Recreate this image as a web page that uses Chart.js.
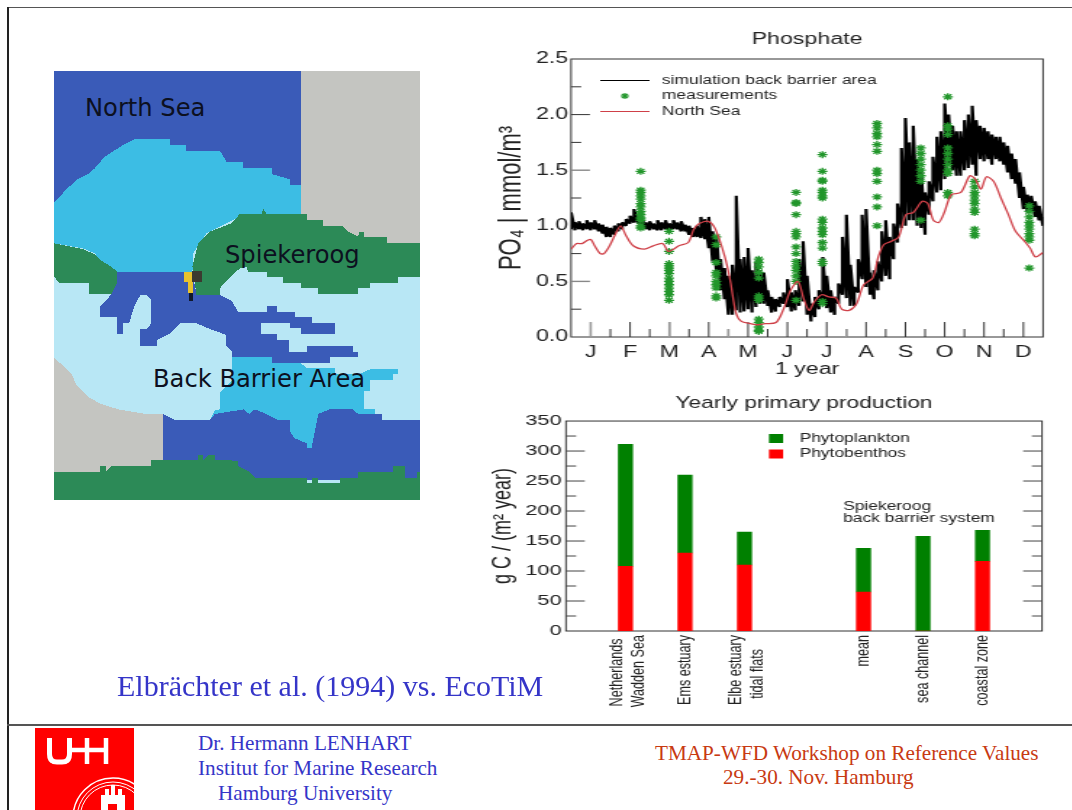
<!DOCTYPE html>
<html>
<head>
<meta charset="utf-8">
<title>Phosphate and yearly primary production</title>
<script src="https://cdn.jsdelivr.net/npm/chart.js@4/dist/chart.umd.min.js"></script>
<style>
    html, body { margin: 0; padding: 0; background: #fff; }
    body { position: relative; width: 1072px; height: 810px; overflow: hidden; }
    .frame { position: absolute; background: #555; }
    .wide { position: absolute; transform: scaleX(1.45); transform-origin: 0 0; }
    .map-label { position: absolute; font-family: "DejaVu Sans", sans-serif; font-size: 24.2px; line-height: 1; color: #0c1020; white-space: pre; }
    .slide-text { position: absolute; font-family: "Liberation Serif", serif; line-height: 1; white-space: pre; }
    .blue { color: #3535c8; }
    .rust { color: #c83a12; }
</style>
</head>
<body>
<div class="frame" style="left:7px;top:7px;width:1065px;height:1px"></div>
<div class="frame" style="left:7px;top:7px;width:2px;height:803px;background:#222"></div>
<div class="frame" style="left:7px;top:724px;width:1065px;height:2px"></div>

<svg style="position:absolute;left:54px;top:71px" width="366" height="429" viewBox="43 33 1097 1287" preserveAspectRatio="none" shape-rendering="crispEdges">
    <rect x="43" y="33" width="1097" height="1287" fill="#b8e7f5"/>
    <polygon fill="#3a5bb8" points="43,33 782,33 782,470 43,470"/>
    <polygon fill="#c4c5c1" points="782,33 1140,33 1140,560 782,560"/>
    <polygon fill="#3cbde4" points="43,428 60,412 75,393 110,360 145,342 165,325 195,290 250,255 285,238 390,238 390,255 440,255 440,272 540,272 560,305 610,305 610,323 695,323 695,342 750,358 750,376 782,376 782,470 600,470 500,520 460,580 458,635 232,635 215,620 180,600 165,580 130,565 43,550"/>
    <polygon fill="#2c8a57" points="470,705 458,620 475,550 510,515 575,490 600,462 665,462 670,447 680,462 800,462 800,480 850,480 850,497 905,497 925,515 955,530 958,515 972,515 972,530 1040,530 1040,548 1140,548 1140,652 1075,652 1075,668 990,668 990,685 955,685 955,703 835,703 835,685 782,685 782,668 730,668 730,652 680,652 680,635 625,635 620,620 600,625 570,652 540,685 540,705"/>
    <polygon fill="#2c8a57" points="43,550 130,567 165,583 182,600 215,620 232,635 232,670 215,703 147,703 147,670 60,670 43,650"/>
    <polygon fill="#3a5bb8" points="232,635 458,635 470,705 540,705 575,722 595,755 680,755 680,738 712,738 712,755 765,755 765,772 815,772 815,790 885,790 885,823 782,823 782,805 750,805 750,790 663,790 663,823 712,823 712,840 748,840 748,875 800,875 800,858 938,858 938,875 955,875 955,892 870,892 870,908 697,908 697,892 578,892 578,875 560,858 560,825 505,805 470,790 420,790 388,822 353,840 353,857 302,857 302,808 320,808 335,790 335,720 320,705 302,705 285,735 268,790 250,790 250,822 233,822 233,772 180,772 180,740 198,722 215,703 232,670"/>
    <polygon fill="#3cbde4" points="578,892 697,892 697,908 782,908 800,925 885,925 885,942 960,942 990,928 1075,928 1075,942 1058,942 1058,960 990,960 990,993 972,993 972,1048 1005,1048 1005,1062 1025,1080 835,1080 815,1165 800,1165 800,1150 765,1135 750,1115 750,1080 510,1080 525,1050 542,1048 542,995 578,960"/>
    <polygon fill="#c4c5c1" points="43,892 60,908 95,940 110,975 145,1010 180,1030 235,1048 320,1062 370,1062 370,1200 335,1218 215,1218 215,1235 43,1235"/>
    <polygon fill="#3a5bb8" points="370,1062 405,1080 510,1080 525,1062 612,1048 628,1062 645,1048 680,1062 715,1080 750,1080 750,1115 765,1135 800,1150 800,1165 815,1165 835,1062 870,1048 938,1048 955,1062 1025,1062 1025,1080 1140,1080 1140,1260 370,1260"/>
    <polygon fill="#2c8a57" points="43,1235 180,1235 180,1218 198,1218 198,1235 215,1218 335,1218 335,1200 475,1200 475,1185 490,1185 490,1200 507,1185 525,1185 525,1200 560,1200 595,1203 595,1218 628,1235 645,1253 800,1253 800,1270 815,1270 815,1253 835,1253 835,1270 900,1270 900,1253 955,1253 955,1235 1060,1235 1060,1218 1095,1218 1095,1253 1130,1253 1130,1235 1140,1235 1140,1320 43,1320"/>
    <rect x="432" y="635" width="28" height="30" fill="#e8c22c"/>
    <rect x="458" y="633" width="30" height="34" fill="#3b3a30"/>
    <rect x="445" y="665" width="16" height="35" fill="#e8c22c"/>
    <rect x="447" y="700" width="14" height="22" fill="#10182c"/>
</svg>
<div class="map-label" style="left:85px;top:96px">North Sea</div>
<div class="map-label" style="left:225px;top:243px">Spiekeroog</div>
<div class="map-label" style="left:153px;top:367px">Back Barrier Area</div>

<div class="wide" style="left:490px;top:20px"><canvas id="phosphateChart" width="393" height="365"></canvas></div>
<div class="wide" style="left:480px;top:392px"><canvas id="productionChart" width="400" height="330"></canvas></div>

<div class="slide-text blue" style="left:117px;top:671px;font-size:30px">Elbrächter et al. (1994) vs. EcoTiM</div>
<div class="slide-text blue" style="left:198px;top:733px;font-size:21.2px">Dr. Hermann LENHART</div>
<div class="slide-text blue" style="left:198px;top:758px;font-size:21.2px">Institut for Marine Research</div>
<div class="slide-text blue" style="left:218px;top:783px;font-size:21.2px">Hamburg University</div>
<div class="slide-text rust" style="left:655px;top:743px;font-size:21.2px">TMAP-WFD Workshop on Reference Values</div>
<div class="slide-text rust" style="left:723px;top:767px;font-size:21.2px">29.-30. Nov. Hamburg</div>

<svg style="position:absolute;left:35px;top:728px" width="99" height="82" viewBox="35 728 99 82">
    <rect x="35" y="728" width="99" height="82" fill="#f00"/>
    <path d="M49.5 738 V754 Q49.5 762 57 762 H62 Q69.5 762 69.5 754 V738" fill="none" stroke="#fff" stroke-width="5"/>
    <path d="M69.5 750 H108 M87 738 V764 M106 738 V764" fill="none" stroke="#fff" stroke-width="4.5"/>
    <g fill="none" stroke="#fff">
        <circle cx="113" cy="818" r="40" stroke-width="1.5"/>
        <circle cx="113" cy="818" r="36" stroke-width="1"/>
        <circle cx="113" cy="818" r="33" stroke-width="1"/>
    </g>
    <path d="M101 810 V795 H105 V789 H109 V795 H111 V785 H115 V795 H118 V789 H122 V795 H125 V810 Z" fill="#fff"/>
    <rect x="108" y="804" width="9" height="6" fill="#f00"/>
</svg>

<script>
const STRETCH_FONT = "'Liberation Sans', Arial, sans-serif";

// Phosphate chart, x is in months (0 = start of January, 12 = end of December)
const monthLabels = ["J", "F", "M", "A", "M", "J", "J", "A", "S", "O", "N", "D"];
const monthCenters = [0.5, 1.5, 2.5, 3.5, 4.5, 5.5, 6.5, 7.5, 8.5, 9.5, 10.5, 11.5];
const monthEdges = [1, 2, 3, 4, 5, 6, 7, 8, 9, 10, 11];
const fadedCenterTicks = [0.5, 2.5];
const fadedEdgeTicks = [4, 7];
const phosphateMinorTicks = [0.25, 0.75, 1.25, 1.75, 2.25];
const phosphateMajorTicks = [1, 2];
const phosphateFadedTicks = [0.5, 1.5];

// Simulation envelope, one low/high pair every 0.1 month
const simLow = [
    0.97, 0.96, 0.97, 0.96, 0.97, 0.96, 0.97, 0.95, 0.93, 0.90,
    0.90, 0.92, 0.95, 0.97, 1.00, 1.02, 1.03, 1.02, 1.00, 0.97,
    0.96, 0.97, 0.96, 0.96, 0.97, 0.95, 0.97, 0.97, 0.95, 0.95,
    0.92, 0.90, 0.90, 0.89, 0.88, 0.80, 0.68, 0.58, 0.42, 0.34,
    0.20, 0.20, 0.24, 0.22, 0.23, 0.25, 0.22, 0.27, 0.30, 0.30,
    0.28, 0.22, 0.23, 0.27, 0.30, 0.27, 0.23, 0.24, 0.28, 0.32,
    0.20, 0.14, 0.18, 0.25, 0.30, 0.26, 0.22, 0.20, 0.30, 0.38,
    0.35, 0.28, 0.28, 0.40, 0.52, 0.45, 0.38, 0.34, 0.42, 0.50,
    0.55, 0.52, 0.70, 0.85, 0.98, 1.00, 1.05, 1.05, 1.00, 0.98,
    0.92, 1.10, 1.22, 1.30, 1.32, 1.42, 1.55, 1.50, 1.45, 1.45,
    1.50, 1.52, 1.55, 1.45, 1.60, 1.58, 1.60, 1.55, 1.60, 1.58,
    1.55, 1.48, 1.42, 1.38, 1.25, 1.15, 1.12, 1.13, 1.08, 1.05,
    1.00
];
const simHigh = [
    1.12, 1.03, 1.04, 1.02, 1.05, 1.03, 1.05, 1.02, 1.01, 0.99,
    0.98, 1.00, 1.02, 1.03, 1.06, 1.09, 1.15, 1.09, 1.07, 1.03,
    1.04, 1.02, 1.05, 1.03, 1.05, 1.02, 1.05, 1.03, 1.04, 1.01,
    1.00, 0.98, 1.00, 1.08, 1.06, 1.08, 0.95, 0.90, 0.70, 0.62,
    0.55, 0.65, 1.27, 0.70, 0.72, 0.80, 0.60, 0.68, 0.60, 0.58,
    0.42, 0.36, 0.34, 0.36, 0.40, 0.52, 0.40, 0.42, 0.70, 0.86,
    0.55, 0.30, 0.36, 0.42, 0.72, 0.55, 0.42, 0.36, 0.48, 0.90,
    1.10, 0.65, 0.45, 0.70, 1.10, 1.15, 0.58, 0.60, 0.68, 0.95,
    1.05, 0.90, 1.02, 1.20, 1.70, 1.97, 1.75, 1.90, 1.60, 1.50,
    1.30, 1.40, 1.62, 1.80, 1.85, 2.10, 2.00, 1.90, 1.85, 1.85,
    1.95, 2.00, 2.08, 1.95, 1.90, 1.88, 1.85, 1.82, 1.80, 1.80,
    1.75, 1.72, 1.65, 1.60, 1.48, 1.35, 1.28, 1.27, 1.22, 1.18,
    1.08
];

const northSeaTime = [
    0, 0.14, 0.28, 0.42, 0.51, 0.6, 0.74, 0.84, 0.98, 1.12, 1.26, 1.4, 1.58, 1.86, 2.09, 2.33, 2.47, 2.6,
    2.74, 2.98, 3.12, 3.26, 3.49, 3.67, 3.91, 4.05, 4.19, 4.33, 4.56, 4.74, 4.93, 5.21, 5.4, 5.58, 5.77,
    5.91, 6.05, 6.19, 6.37, 6.56, 6.74, 6.88, 7.07, 7.26, 7.44, 7.67, 7.81, 7.95, 8.14, 8.33, 8.51, 8.7,
    8.93, 9.07, 9.21, 9.35, 9.49, 9.67, 9.91, 10.14, 10.28, 10.42, 10.56, 10.74, 10.93, 11.12, 11.3,
    11.53, 11.67, 11.81, 12
];
const northSeaValues = [
    0.79, 0.84, 0.84, 0.87, 0.875, 0.82, 0.75, 0.75, 0.82, 0.92, 1.0, 0.91, 0.82, 0.79, 0.82, 0.84, 0.77, 0.79,
    0.82, 0.85, 0.97, 1.02, 1.04, 0.97, 0.72, 0.5, 0.22, 0.14, 0.12, 0.11, 0.12, 0.13, 0.25, 0.42, 0.5,
    0.35, 0.24, 0.32, 0.38, 0.36, 0.35, 0.25, 0.24, 0.3, 0.47, 0.53, 0.72, 0.83, 0.86, 0.9, 1.1, 1.12,
    1.22, 1.2, 1.05, 1.03, 1.12, 1.28, 1.3, 1.45, 1.42, 1.33, 1.44, 1.4, 1.25, 1.1, 0.95,
    0.86, 0.8, 0.72, 0.76
];

// Measurement campaigns: one time per column, values read top to bottom
const sampleTimes = [1.77, 2.49, 3.69, 4.77, 5.72, 6.39, 7.78, 8.89, 9.58, 10.26, 11.65];
const sampleValues = [
    [1.49, 1.32, 1.3, 1.27, 1.24, 1.2, 1.17, 1.13, 1.1, 1.07, 1.05, 1.0, 0.98],
    [0.95, 0.86, 0.77, 0.66, 0.64, 0.62, 0.6, 0.57, 0.53, 0.5, 0.47, 0.44, 0.41, 0.38, 0.33],
    [0.9, 0.83, 0.67, 0.58, 0.55, 0.5, 0.47, 0.44, 0.37, 0.35],
    [0.7, 0.67, 0.63, 0.58, 0.53, 0.37, 0.35, 0.33, 0.16, 0.13, 0.09, 0.06, 0.05],
    [1.3, 1.21, 1.2, 1.1, 0.95, 0.93, 0.9, 0.81, 0.75, 0.68, 0.64, 0.6, 0.55, 0.5, 0.33],
    [1.64, 1.49, 1.41, 1.4, 1.32, 1.3, 1.27, 1.25, 1.06, 1.03, 0.98, 0.95, 0.92, 0.85, 0.8, 0.68, 0.66, 0.32, 0.3],
    [1.92, 1.88, 1.83, 1.8, 1.73, 1.67, 1.5, 1.47, 1.4, 1.26, 1.17, 1.0],
    [1.7, 1.65, 1.6, 1.55, 1.5, 1.45, 1.4, 1.05],
    [2.16, 1.9, 1.87, 1.82, 1.7, 1.65, 1.6, 1.55, 1.5, 1.47, 1.3, 1.27],
    [1.4, 1.35, 1.3, 1.27, 1.23, 1.2, 1.15, 1.12, 0.97, 0.93, 0.91],
    [1.18, 1.13, 1.08, 1.03, 1.0, 0.97, 0.93, 0.9, 0.87, 0.62]
];

// Production chart, blanks keep the gaps of the original axis
const siteLabels = ["", ["Netherlands ", "Wadden Sea"], "Ems estuary", ["Elbe estuary", "tidal flats    "], "", "mean", "sea channel", "coastal zone", ""];
const phytobenthos = [null, 108, 130, 110, null, 65, 0, 116, null];
const phytoplankton = [null, 203, 130, 55, null, 73, 158, 52, null];
const productionTicks = [0, 50, 100, 150, 200, 250, 300, 350];
const productionMajorTicks = [50, 100, 150, 200, 250, 300];
const productionMinorTicks = [25, 75, 125, 175, 225, 275, 325];

const simSeries = [];
simLow.forEach((low, i) => {
    const t = i / 10;
    simSeries.push({ x: t, y: low }, { x: t, y: simHigh[i] });
});
const northSeaSeries = northSeaTime.map((t, i) => ({ x: t, y: northSeaValues[i] }));
const sampleSeries = [];
sampleTimes.forEach((t, i) => sampleValues[i].forEach(v => sampleSeries.push({ x: t, y: v })));

// Draws the frame and the inward tick marks the plotting package used
const plotFrame = {
    id: "plotFrame",
    beforeDatasetsDraw(chart, args, opts) {
        const { ctx, chartArea: area, scales } = chart;
        ctx.save();
        ctx.strokeStyle = "#333";
        ctx.lineWidth = 1;
        ctx.strokeRect(area.left, area.top, area.right - area.left, area.bottom - area.top);
        (opts.yMarks || []).forEach(mark => {
            ctx.strokeStyle = mark.color;
            ctx.lineWidth = mark.width || 1;
            mark.values.forEach(v => {
                const y = scales.y.getPixelForValue(v);
                ctx.beginPath();
                ctx.moveTo(area.left, y);
                ctx.lineTo(area.left + mark.length, y);
                if (opts.bothSides) {
                    ctx.moveTo(area.right, y);
                    ctx.lineTo(area.right - mark.length, y);
                }
                ctx.stroke();
            });
        });
        (opts.xMarks || []).forEach(mark => {
            ctx.strokeStyle = mark.color;
            ctx.lineWidth = mark.width || 1;
            mark.values.forEach(v => {
                const x = scales.x.getPixelForValue(v);
                ctx.beginPath();
                ctx.moveTo(x, area.bottom);
                ctx.lineTo(x, area.bottom - mark.length);
                ctx.stroke();
            });
        });
        ctx.restore();
    },
};

// Legend and notes sit inside the plot, so they are placed by hand
const insetText = {
    id: "insetText",
    afterDraw(chart, args, opts) {
        const { ctx } = chart;
        ctx.save();
        ctx.textBaseline = "middle";
        ctx.font = `${opts.size}px ${STRETCH_FONT}`;
        (opts.rows || []).forEach(row => {
            if (row.line) {
                ctx.strokeStyle = row.line;
                ctx.lineWidth = row.width;
                ctx.beginPath();
                ctx.moveTo(row.keyX, row.y);
                ctx.lineTo(row.keyX + 34, row.y);
                ctx.stroke();
            }
            if (row.star) {
                ctx.strokeStyle = row.star;
                ctx.fillStyle = row.star;
                ctx.lineWidth = 1.2;
                Chart.helpers.drawPoint(ctx, { pointStyle: "star", radius: 3, borderWidth: 1.2 }, row.keyX + 17, row.y);
            }
            if (row.box) {
                ctx.fillStyle = row.box;
                ctx.fillRect(row.keyX, row.y - 4.5, 9.7, 9);
            }
            ctx.fillStyle = "#222";
            ctx.fillText(row.text, row.x, row.y);
        });
        ctx.restore();
    },
};

// Chart.js hangs rotated two-line labels off the tick, the original centres them
const centerWrappedLabels = {
    id: "centerWrappedLabels",
    beforeDraw(chart) {
        chart.scales.x.getLabelItems(chart.chartArea).forEach(item => {
            if (Array.isArray(item.label) && !item.centered) {
                item.options.translation[0] -= 5.5;
                item.centered = true;
            }
        });
    },
};

Chart.defaults.animation = false;
Chart.defaults.font.family = STRETCH_FONT;
Chart.defaults.color = "#222";

function createPhosphateChart() {
    new Chart(document.getElementById("phosphateChart"), {
        type: "scatter",
        data: {
            datasets: [
                {
                    label: "simulation back barrier area",
                    data: simSeries,
                    showLine: true,
                    borderColor: "#000",
                    borderWidth: 2.2,
                    borderJoinStyle: "bevel",
                    pointRadius: 0,
                    order: 3,
                },
                {
                    label: "measurements",
                    data: sampleSeries,
                    pointStyle: "star",
                    pointRadius: 3.5,
                    pointBorderWidth: 1.3,
                    borderColor: "#22962b",
                    backgroundColor: "#22962b",
                    order: 2,
                },
                {
                    label: "North Sea",
                    data: northSeaSeries,
                    showLine: true,
                    borderColor: "#cf4048",
                    borderWidth: 1.3,
                    tension: 0.3,
                    pointRadius: 0,
                    order: 1,
                },
            ],
        },
        options: {
            responsive: false,
            layout: { padding: { right: 11.6 } },
            plugins: {
                legend: { display: false },
                tooltip: { enabled: false },
                title: {
                    display: true,
                    text: "Phosphate",
                    fullSize: false,
                    color: "#222",
                    font: { size: 16, weight: "normal", lineHeight: 1.2 },
                    padding: { top: 10, bottom: 9.8 },
                },
                plotFrame: {
                    yMarks: [
                        { values: phosphateMajorTicks, length: 13, color: "#333" },
                        { values: phosphateFadedTicks, length: 13, color: "#888", width: 1.4 },
                        { values: phosphateMinorTicks, length: 7, color: "#333" },
                    ],
                    xMarks: [
                        { values: monthCenters, length: 15, color: "#333" },
                        { values: monthEdges, length: 8, color: "#333" },
                        { values: fadedCenterTicks, length: 15, color: "#999", width: 1.6 },
                        { values: fadedEdgeTicks, length: 8, color: "#999", width: 1.6 },
                    ],
                },
                insetText: {
                    size: 12,
                    rows: [
                        { text: "simulation back barrier area", x: 118.6, y: 60.5, keyX: 76, line: "#000", width: 1.2 },
                        { text: "measurements", x: 118.6, y: 76, keyX: 76, star: "#22962b" },
                        { text: "North Sea", x: 118.6, y: 91.5, keyX: 76, line: "#cf4048", width: 1.2 },
                    ],
                },
            },
            scales: {
                x: {
                    type: "linear",
                    min: 0,
                    max: 12,
                    grid: { display: false, drawTicks: false, tickLength: 0 },
                    border: { display: false },
                    afterBuildTicks: scale => { scale.ticks = monthCenters.map(value => ({ value })); },
                    afterFit: scale => { scale.height = 48; },
                    ticks: {
                        autoSkip: false,
                        maxRotation: 0,
                        padding: 6,
                        font: { size: 16 },
                        callback: (value, index) => monthLabels[index],
                    },
                    title: { display: true, text: "1 year", font: { size: 16 }, padding: { top: 0, bottom: 6 } },
                },
                y: {
                    min: 0,
                    max: 2.5,
                    grid: { display: false, drawTicks: false, tickLength: 0 },
                    border: { display: false },
                    afterFit: scale => { scale.width = 55.9; },
                    ticks: {
                        stepSize: 0.5,
                        padding: 2,
                        font: { size: 16 },
                        callback: value => value.toFixed(1),
                    },
                    title: { display: true, text: "PO₄ | mmol/m³", font: { size: 22 }, padding: { top: 2, bottom: 0 } },
                },
            },
        },
        plugins: [plotFrame, insetText],
    });
}

function createProductionChart() {
    new Chart(document.getElementById("productionChart"), {
        type: "bar",
        data: {
            labels: siteLabels,
            datasets: [
                { label: "Phytobenthos", data: phytobenthos, backgroundColor: "#ff0000", barThickness: 9.7, stack: "total" },
                { label: "Phytoplankton", data: phytoplankton, backgroundColor: "#008000", barThickness: 9.7, stack: "total" },
            ],
        },
        options: {
            responsive: false,
            layout: { padding: { right: 12.4 } },
            plugins: {
                legend: { display: false },
                tooltip: { enabled: false },
                title: {
                    display: true,
                    text: "Yearly primary production",
                    fullSize: false,
                    color: "#222",
                    font: { size: 15.7, weight: "normal", lineHeight: 1.2 },
                    padding: { top: 2, bottom: 8.2 },
                },
                plotFrame: {
                    bothSides: true,
                    yMarks: [
                        { values: productionMajorTicks, length: 13, color: "#444" },
                        { values: productionMinorTicks, length: 7, color: "#444" },
                    ],
                },
                insetText: {
                    size: 12,
                    rows: [
                        { text: "Phytoplankton", x: 220.4, y: 46.5, keyX: 199.3, box: "#008000" },
                        { text: "Phytobenthos", x: 220.4, y: 62, keyX: 199.3, box: "#ff0000" },
                        { text: "Spiekeroog", x: 250.4, y: 115, keyX: 0 },
                        { text: "back barrier system", x: 250.4, y: 127, keyX: 0 },
                    ],
                },
            },
            scales: {
                x: {
                    stacked: true,
                    offset: false,
                    grid: { display: false, drawTicks: false, tickLength: 0 },
                    border: { display: false },
                    afterFit: scale => {
                        scale.height = 91;
                        scale.paddingLeft = 0;
                        scale.paddingRight = 0;
                    },
                    ticks: {
                        autoSkip: false,
                        minRotation: 90,
                        maxRotation: 90,
                        padding: 4,
                        font: { size: 12.6, lineHeight: 1.15 },
                    },
                },
                y: {
                    stacked: true,
                    min: 0,
                    max: 350,
                    grid: { display: false, drawTicks: false, tickLength: 0 },
                    border: { display: false },
                    afterBuildTicks: scale => { scale.ticks = productionTicks.map(value => ({ value })); },
                    afterFit: scale => { scale.width = 59.3; },
                    ticks: { padding: 3, font: { size: 15 } },
                    title: { display: true, text: "g C / (m² year)", font: { size: 18 }, padding: { top: 5, bottom: 0 } },
                },
            },
        },
        plugins: [plotFrame, insetText, centerWrappedLabels],
    });
}

createPhosphateChart();
createProductionChart();
</script>
</body>
</html>
